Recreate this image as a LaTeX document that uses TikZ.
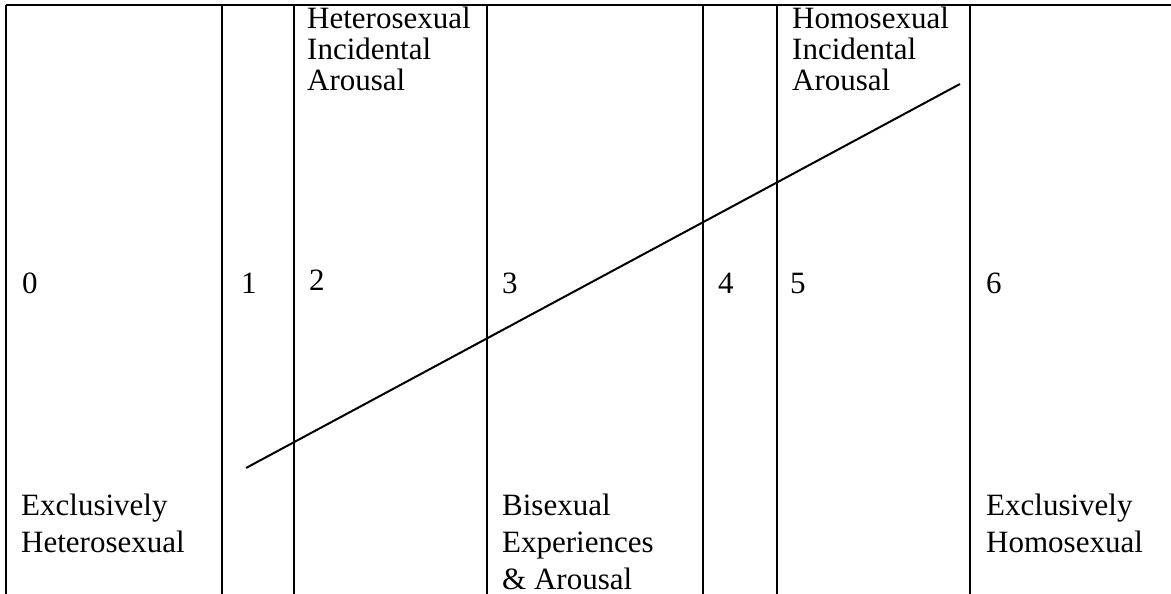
\documentclass[tikz,border=0pt]{standalone}
\usepackage{fontspec}
\setmainfont{Liberation Serif}
\begin{document}
\begin{tikzpicture}[x=1pt,y=-1pt,
  rule/.style={line width=1.7pt},
  diag/.style={line width=2pt},
  toplbl/.style={font=\fontsize{31}{31}\selectfont, inner sep=0pt, anchor=base west},
  botlbl/.style={font=\fontsize{31}{37}\selectfont, inner sep=0pt, anchor=base west},
  num/.style={font=\fontsize{31}{35}\selectfont, inner sep=0pt, anchor=base west}]
\useasboundingbox (0,0) rectangle (1171,594);
% frame and column rules
\draw[rule] (6,5) -- (1171,5);
\foreach \x in {6,222,294,487,703,777,970} \draw[rule] (\x,5) -- (\x,594);
% diagonal
\coordinate (dstart) at (246,468);
\coordinate (dend) at (960,84);
\draw[diag] (dstart) -- (dend);
% numbers
\node[num] (n0) at (22,293) {0};
\node[num] (n1) at (241,293) {1};
\node[num] (n2) at (309,290) {2};
\node[num] (n3) at (502,293) {3};
\node[num] (n4) at (718,293) {4};
\node[num] (n5) at (790,293) {5};
\node[num] (n6) at (986,293) {6};
% labels
\node[toplbl] (hetinc) at (307,29) {\begin{tabular}[t]{@{}l@{}}Heterosexual\\Incidental\\Arousal\end{tabular}};
\node[toplbl] (hominc) at (792,29) {\begin{tabular}[t]{@{}l@{}}Homosexual\\Incidental\\Arousal\end{tabular}};
\node[botlbl] (exhet) at (21,515) {\begin{tabular}[t]{@{}l@{}}Exclusively\\Heterosexual\end{tabular}};
\node[botlbl] (bisex) at (502,515) {\begin{tabular}[t]{@{}l@{}}Bisexual\\Experiences\\\& Arousal\end{tabular}};
\node[botlbl] (exhom) at (986,515) {\begin{tabular}[t]{@{}l@{}}Exclusively\\Homosexual\end{tabular}};
\end{tikzpicture}
\end{document}
